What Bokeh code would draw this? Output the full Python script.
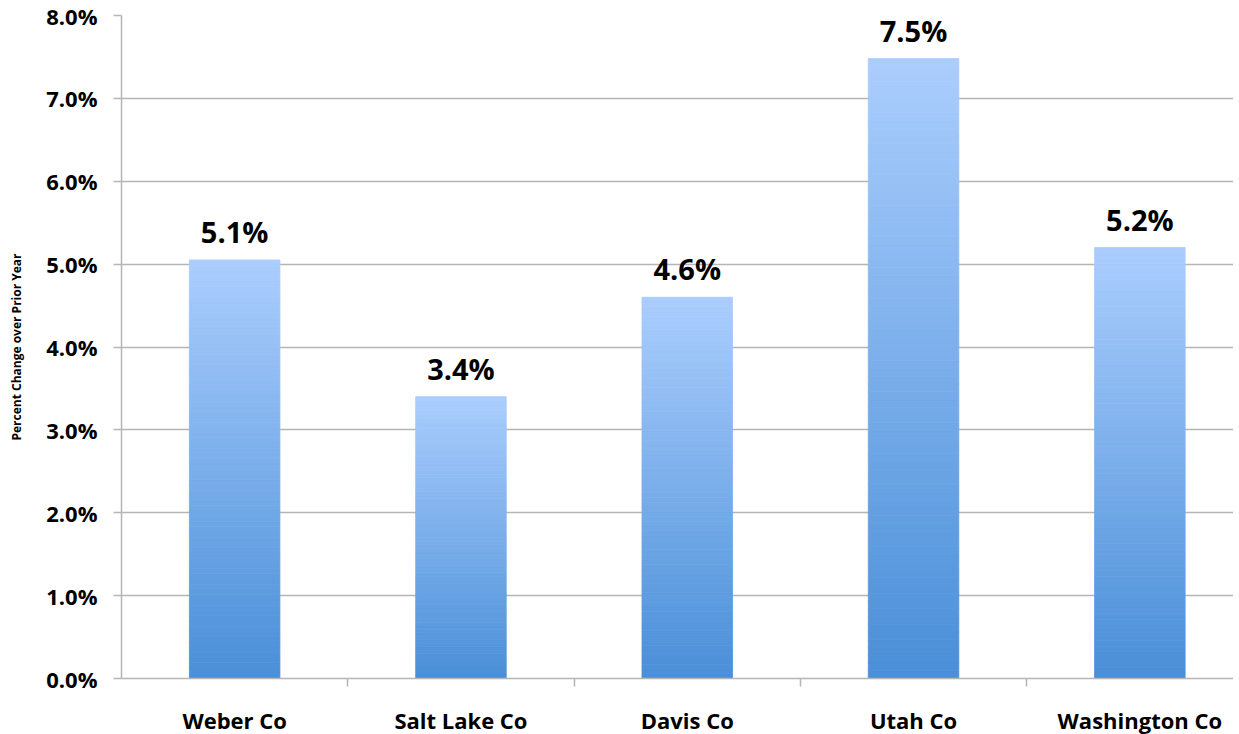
from bokeh.plotting import figure
from bokeh.models import Range1d, FixedTicker, PrintfTickFormatter, ColumnDataSource
from bokeh.core.properties import value
from bokeh.embed import file_html
from bokeh.resources import INLINE

# ---- data ----
counties = ["Weber Co", "Salt Lake Co", "Davis Co", "Utah Co", "Washington Co"]
pct_change = [5.05, 3.4, 4.6, 7.48, 5.2]
value_labels = ["5.1%", "3.4%", "4.6%", "7.5%", "5.2%"]
y_ticks = [0, 1, 2, 3, 4, 5, 6, 7, 8]
y_label = "Percent Change over Prior Year"

# ---- style ----
FONT = "Open Sans"
TOP_RGB = (170, 205, 253)
BOT_RGB = (74, 143, 216)
GRID = "#b5b5b5"
N_SLICES = 80
BAR_W = 0.40
FRAME_W = 1112
CAT_PX = 226.3

centers = [i + 0.5 for i in range(len(counties))]

p = figure(
    frame_width=FRAME_W, frame_height=663,
    x_range=Range1d(0, FRAME_W / CAT_PX), y_range=Range1d(0, 8),
    output_backend="svg", toolbar_location=None,
    min_border_left=121, min_border_right=0, min_border_top=15, min_border_bottom=0,
)
p.outline_line_color = None
p.background_fill_color = "white"
p.border_fill_color = "white"

# gradient bars built from slices
xs, bots, tops, cols = [], [], [], []
for c, v in zip(centers, pct_change):
    for k in range(N_SLICES):
        t = k / (N_SLICES - 1)
        r = round(BOT_RGB[0] + (TOP_RGB[0] - BOT_RGB[0]) * t)
        g = round(BOT_RGB[1] + (TOP_RGB[1] - BOT_RGB[1]) * t)
        b = round(BOT_RGB[2] + (TOP_RGB[2] - BOT_RGB[2]) * t)
        xs.append(c)
        bots.append(v * k / N_SLICES)
        tops.append(v * (k + 1) / N_SLICES)
        cols.append("#%02x%02x%02x" % (r, g, b))
src = ColumnDataSource(dict(x=xs, bottom=bots, top=tops, color=cols))
p.vbar(x="x", bottom="bottom", top="top", width=BAR_W, source=src,
       fill_color="color", line_color="color", line_width=0.8)

# value labels
lab = ColumnDataSource(dict(x=centers, y=pct_change, t=value_labels))
p.text(x="x", y="y", text="t", source=lab, text_align="center", text_baseline="bottom",
       y_offset=-9, text_font=value(FONT), text_font_style="bold",
       text_font_size="29px", text_color="#000000")

# grid
p.xgrid.grid_line_color = None
p.ygrid.grid_line_color = GRID
p.ygrid.grid_line_width = 1.5
p.ygrid.ticker = FixedTicker(ticks=y_ticks)

# y axis
p.yaxis.ticker = FixedTicker(ticks=y_ticks)
p.yaxis.formatter = PrintfTickFormatter(format="%.1f%%")
p.yaxis.axis_line_color = GRID
p.yaxis.axis_line_width = 1.5
p.yaxis.major_tick_line_color = GRID
p.yaxis.major_tick_line_width = 1.5
p.yaxis.major_tick_out = 8
p.yaxis.major_tick_in = 0
p.yaxis.minor_tick_line_color = None
p.yaxis.major_label_standoff = 16
p.yaxis.major_label_text_font = FONT
p.yaxis.major_label_text_font_style = "bold"
p.yaxis.major_label_text_font_size = "22px"
p.yaxis.major_label_text_color = "#000000"
p.yaxis.axis_label = y_label
p.yaxis.axis_label_text_font = FONT
p.yaxis.axis_label_text_font_style = "bold"
p.yaxis.axis_label_text_font_size = "12px"
p.yaxis.axis_label_text_color = "#000000"
p.yaxis.axis_label_standoff = 18

# x axis: labels at centres, ticks at category boundaries (as minor ticks)
p.xaxis.ticker = FixedTicker(ticks=centers, minor_ticks=[1, 2, 3, 4])
p.xaxis.major_label_overrides = {c: n for c, n in zip(centers, counties)}
p.xaxis.axis_line_color = GRID
p.xaxis.axis_line_width = 1.5
p.xaxis.major_tick_line_color = None
p.xaxis.major_tick_out = 0
p.xaxis.major_tick_in = 0
p.xaxis.minor_tick_line_color = GRID
p.xaxis.minor_tick_line_width = 1.5
p.xaxis.minor_tick_out = 8
p.xaxis.minor_tick_in = 0
p.xaxis.major_label_standoff = 18
p.xaxis.major_label_text_font = FONT
p.xaxis.major_label_text_font_style = "bold"
p.xaxis.major_label_text_font_size = "22px"
p.xaxis.major_label_text_color = "#000000"

open("out.html", "w").write(file_html(p, INLINE))
